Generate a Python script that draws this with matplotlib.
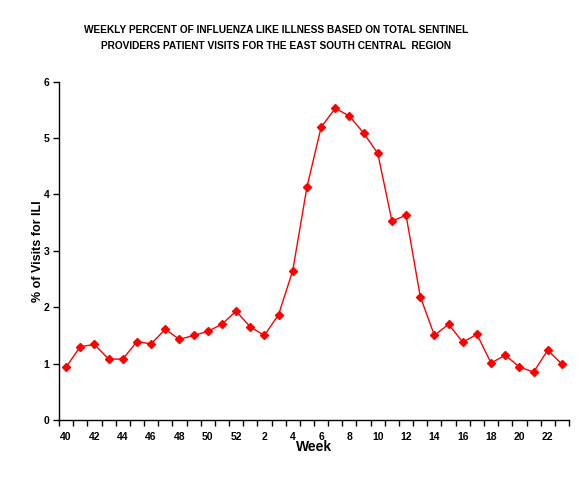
import matplotlib
matplotlib.use("Agg")
import matplotlib.pyplot as plt
import numpy as np

weeks = [40, 41, 42, 43, 44, 45, 46, 47, 48, 49, 50, 51, 52,
         1, 2, 3, 4, 5, 6, 7, 8, 9, 10, 11, 12, 13, 14, 15, 16, 17, 18, 19, 20, 21, 22, 23]
ili = [0.94, 1.30, 1.34, 1.08, 1.08, 1.39, 1.35, 1.61, 1.43, 1.50, 1.57, 1.70, 1.93,
       1.65, 1.50, 1.87, 2.65, 4.13, 5.19, 5.53, 5.39, 5.09, 4.73, 3.53, 3.63, 2.19,
       1.50, 1.70, 1.38, 1.52, 1.01, 1.15, 0.94, 0.85, 1.24, 0.99]
title = ("WEEKLY PERCENT OF INFLUENZA LIKE ILLNESS BASED ON TOTAL SENTINEL\n"
         "PROVIDERS PATIENT VISITS FOR THE EAST SOUTH CENTRAL  REGION")

plt.rcParams['font.family'] = ['Liberation Sans', 'DejaVu Sans']

fig = plt.figure(figsize=(5.87, 4.88), dpi=100)
ax = fig.add_axes([59/587, 1-420/488, 510/587, (420-81.7)/488])

x = np.arange(len(weeks))
ax.plot(x, ili, color='#ff0000', lw=1, marker='D', markersize=4.5,
        markerfacecolor='#ff0000', markeredgecolor='#ff0000')

ax.set_xlim(-0.5, len(weeks) - 0.5)
ax.set_ylim(0, 6)
ax.set_yticks(range(7))
ax.set_yticklabels([str(i) for i in range(7)], fontsize=7.5, fontweight='bold')

ax.set_xticks(x[::2])
ax.set_xticklabels([str(w) for w in weeks[::2]], fontsize=7.5, fontweight='bold')
ax.tick_params(axis='x', which='major', length=0, pad=9)
ax.set_xticks(np.arange(-0.5, len(weeks), 1), minor=True)
ax.tick_params(axis='x', which='minor', length=4, direction='out', width=1)
ax.tick_params(axis='y', length=4, direction='out', width=1, pad=3)

for s in ['top', 'right']:
    ax.spines[s].set_visible(False)
for s in ['left', 'bottom']:
    ax.spines[s].set_linewidth(1)

ax.set_xlabel('Week', fontsize=10, fontweight='bold', labelpad=-2)
ax.set_ylabel('% of Visits for ILI', fontsize=9, fontweight='bold', labelpad=0)

fig.text(0.470, 0.9215, title, ha='center', va='center', fontsize=7.3,
         fontweight='bold', linespacing=1.75)

fig.savefig('out.png', dpi=100)
